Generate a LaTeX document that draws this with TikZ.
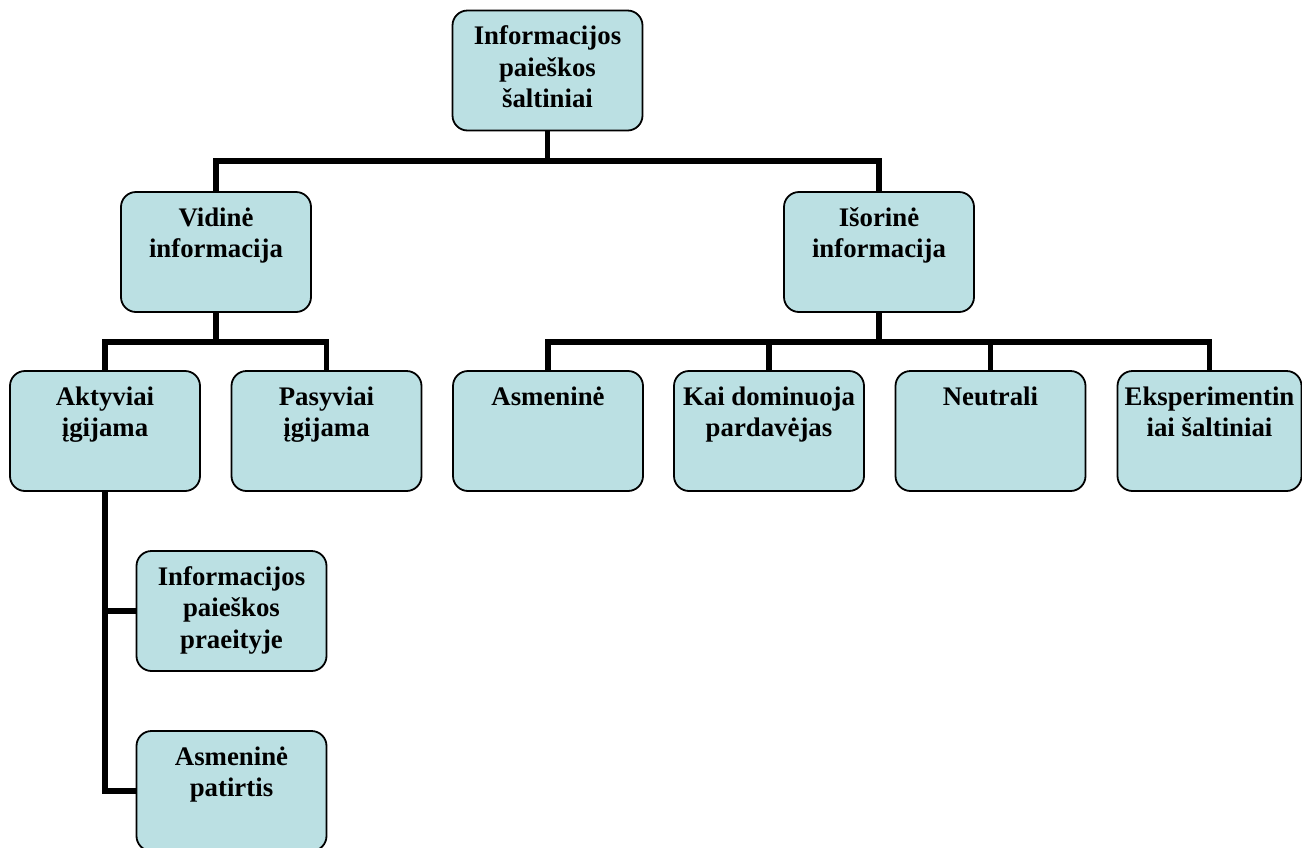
\documentclass[tikz,border=0pt]{standalone}
\usepackage{fontspec}
\setmainfont{Liberation Serif}
\begin{document}
% box contents: fixed-size block, text set from the top
\newcommand{\cardtext}[2][190pt]{%
  \begin{minipage}[c][120pt][t]{#1}\centering
  \fontsize{26.8pt}{31.5pt}\selectfont\bfseries
  \rule{0pt}{34pt}#2\end{minipage}}
\begin{tikzpicture}[x=1pt,y=-1pt,
  card/.style={draw=black, line width=1.8pt, fill=cardfill,
    rounded corners=15pt, inner sep=0pt},
  link/.style={draw=black, line width=5.8pt, line join=miter}]
\definecolor{cardfill}{RGB}{187,224,227}
\useasboundingbox (0,0) rectangle (1302,847);
\clip (0,0) rectangle (1302,847);

% junction points of the horizontal bars
\coordinate (b1) at (547.5,161);
\coordinate (b2) at (216,342);
\coordinate (b3) at (879,342);

% level 1
\node[card] (top)  at (547.5,70.5) {\cardtext{Informacijos\\paieškos\\šaltiniai}};
% level 2
\node[card] (vid)  at (216,252)    {\cardtext{Vidinė\\informacija}};
\node[card] (isor) at (879,252)    {\cardtext{Išorinė\\informacija}};
% level 3
\node[card] (akt)  at (105,431)    {\cardtext{Aktyviai\\įgijama}};
\node[card] (pas)  at (326.5,431)  {\cardtext{Pasyviai\\įgijama}};
\node[card] (asm)  at (548,431)    {\cardtext{Asmeninė}};
\node[card] (kai)  at (769,431)    {\cardtext{Kai dominuoja\\pardavėjas}};
\node[card] (neu)  at (990.5,431)  {\cardtext{Neutrali}};
\node[card] (eks)  at (1209.5,431) {\cardtext[184pt]{Eksperimentin\\iai šaltiniai}};
% level 4
\node[card] (prae) at (231.5,611)  {\cardtext{Informacijos\\paieškos\\praeityje}};
\node[card] (asp)  at (231.5,791)  {\cardtext{Asmeninė\\patirtis}};

% tree connectors, ending on the box edges
\path[link] (top.south) -- (b1) -| (vid.north);
\path[link] (b1) -| (isor.north);
\path[link] (vid.south) -- (b2) -| (akt.north);
\path[link] (b2) -| (pas.north);
\path[link] (isor.south) -- (b3) -| (asm.north);
\path[link] (b3) -| (kai.north);
\path[link] (b3) -| (neu.north);
\path[link] (b3) -| (eks.north);
\path[link] (akt.south) |- (prae.west);
\path[link] (akt.south) |- (asp.west);
\end{tikzpicture}
\end{document}
